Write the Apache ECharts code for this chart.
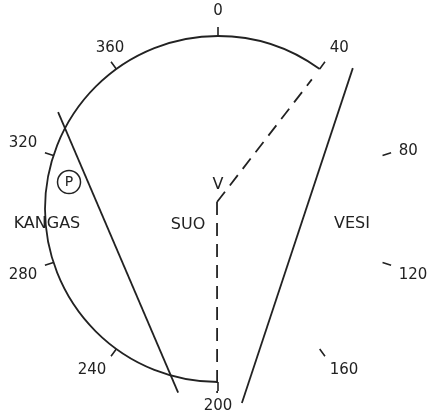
<!DOCTYPE html>
<html>
<head>
<meta charset="utf-8">
<script src="https://cdn.jsdelivr.net/npm/echarts@6/dist/echarts.min.js"></script>
<style>
html, body { margin: 0; background: #fff; }
#main { width: 431px; height: 418px; }
</style>
</head>
<body>
<div id="main"></div>
<script>
var dom = document.getElementById('main');
var chart = echarts.init(dom);

// bearing scale: 400 units to a full turn, 0 at top, clockwise
var angleMax = 400;
var angleStep = 40;

// the circle arc runs from bearing 200 round past 300 and 0 to 40
var arcRadius = 173;
var arcFrom = 200;
var arcTo = 440;

// solid lines, [radius, bearing]
var lineA = [[187, 334.7], [188, 213.6]];
var lineB = [[195, 48.6], [195.5, 192.2]];
// dashed lines out of V
var dashA = [[7, 391], [160, 39.9]];
var dashB = [[7, 391], [184, 200.3]];

// names on the plan
var placeNames = ['KANGAS', 'SUO', 'VESI', 'V'];
var placePos = [[171.7, 294.4], [34, 268.8], [134.8, 107.1], [24, 0]];
var pointP = [[151.4, 311.4]];

var ink = '#222';
var outer = 215; // second polar, same scale, room for lines past the circle

function lineSeries(data, dashed) {
	return {
		type: 'line',
		coordinateSystem: 'polar',
		polarIndex: 1,
		data: data,
		showSymbol: false,
		clip: false,
		silent: true,
		lineStyle: {
			color: ink,
			width: 1.8,
			type: dashed ? [13, 8] : 'solid'
		}
	};
}

var labelFont = { fontSize: 15, color: ink, fontFamily: 'DejaVu Sans' };

var option = {
	animation: false,
	polar: [{
		center: [218, 209],
		radius: arcRadius
	}, {
		center: [218, 209],
		radius: outer
	}],
	angleAxis: [{
		polarIndex: 0,
		type: 'value',
		min: 0,
		max: angleMax,
		interval: angleStep,
		startAngle: 90,
		clockwise: true,
		axisLine: { show: false },
		splitLine: { show: false },
		axisTick: {
			show: true,
			length: 9,
			lineStyle: { color: ink, width: 1.6 }
		},
		axisLabel: {
			margin: 17,
			fontSize: 15,
			color: ink,
			fontFamily: 'DejaVu Sans',
			formatter: function (v) {
				if (v === angleMax) return '';
				if (v === 80) return '{low|' + v + '}';
				if (v === 360) return '{mid|' + v + '}';
				return String(v);
			},
			rich: {
				low: Object.assign({ padding: [0, 0, -8, 0] }, labelFont),
				mid: Object.assign({ padding: [0, -18, 0, 0] }, labelFont)
			}
		}
	}, {
		polarIndex: 1,
		type: 'value',
		min: 0,
		max: angleMax,
		startAngle: 90,
		clockwise: true,
		show: false
	}],
	radiusAxis: [{
		polarIndex: 0,
		type: 'value',
		min: 0,
		max: arcRadius,
		show: false
	}, {
		polarIndex: 1,
		type: 'value',
		min: 0,
		max: outer,
		show: false
	}],
	series: [{
		type: 'custom',
		coordinateSystem: 'polar',
		polarIndex: 0,
		silent: true,
		data: [[arcRadius, arcFrom, arcTo]],
		renderItem: function (params, api) {
			var cs = params.coordSys;
			var p0 = api.coord([api.value(0), api.value(1)]);
			var p1 = api.coord([api.value(0), api.value(2) % angleMax]);
			var r = Math.hypot(p0[0] - cs.cx, p0[1] - cs.cy);
			return {
				type: 'arc',
				shape: {
					cx: cs.cx,
					cy: cs.cy,
					r: r,
					startAngle: Math.atan2(p0[1] - cs.cy, p0[0] - cs.cx),
					endAngle: Math.atan2(p1[1] - cs.cy, p1[0] - cs.cx),
					clockwise: true
				},
				style: { fill: null, stroke: ink, lineWidth: 1.8 }
			};
		}
	},
		lineSeries(lineA, false),
		lineSeries(lineB, false),
		lineSeries(dashA, true),
		lineSeries(dashB, true),
	{
		type: 'scatter',
		coordinateSystem: 'polar',
		polarIndex: 1,
		silent: true,
		symbolSize: 0,
		data: placePos.map(function (p, i) {
			return { value: p, name: placeNames[i] };
		}),
		itemStyle: { opacity: 1 },
		label: {
			show: true,
			position: 'inside',
			formatter: '{b}',
			fontSize: 16,
			fontFamily: 'DejaVu Sans',
			color: ink
		}
	}, {
		type: 'scatter',
		coordinateSystem: 'polar',
		polarIndex: 1,
		silent: true,
		symbol: 'circle',
		symbolSize: 23,
		data: pointP,
		itemStyle: {
			opacity: 1,
			color: 'rgba(0,0,0,0)',
			borderColor: ink,
			borderWidth: 1.5
		},
		label: {
			show: true,
			position: 'inside',
			formatter: 'P',
			fontSize: 14,
			fontFamily: 'DejaVu Sans',
			color: ink
		}
	}]
};

chart.setOption(option);
</script>
</body>
</html>
